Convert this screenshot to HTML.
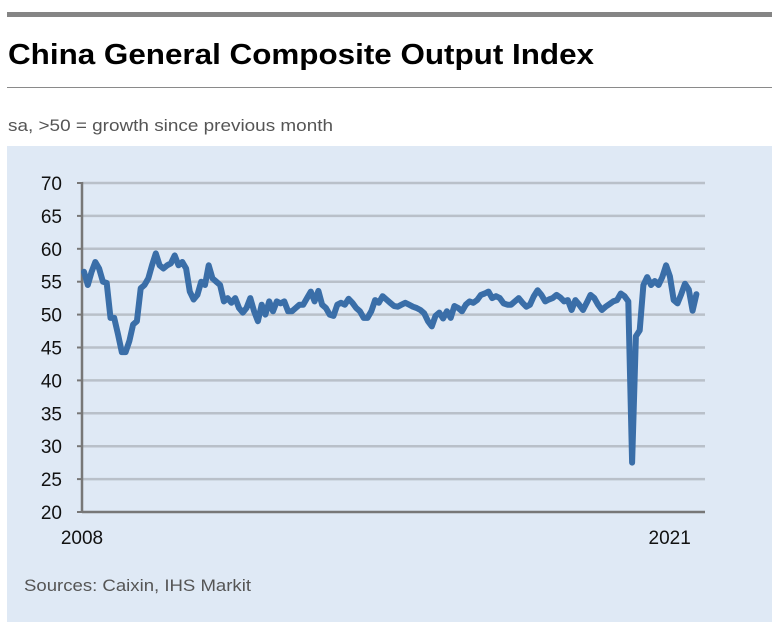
<!DOCTYPE html>
<html><head><meta charset="utf-8"><style>
html,body{margin:0;padding:0;background:#fff;}
svg{display:block;font-family:"Liberation Sans",sans-serif;}
</style></head><body>
<svg width="777" height="630" viewBox="0 0 777 630">
<rect x="7" y="12" width="765" height="5" fill="#858585"/>
<text x="8" y="64" font-size="29" font-weight="bold" fill="#000" textLength="586" lengthAdjust="spacingAndGlyphs">China General Composite Output Index</text>
<rect x="7" y="87" width="765" height="1" fill="#8a8a8a"/>
<text x="8" y="131" font-size="17" fill="#555" textLength="325" lengthAdjust="spacingAndGlyphs">sa, &gt;50 = growth since previous month</text>
<rect x="7" y="146" width="765" height="476" fill="#dfe9f5"/>
<g id="grid"></g>
<g id="axis"></g>
<path id="line" fill="none" stroke="#3a6ea8" stroke-width="6" stroke-linejoin="round" stroke-linecap="round"/>
<text x="24" y="591" font-size="17" fill="#555" textLength="227" lengthAdjust="spacingAndGlyphs">Sources: Caixin, IHS Markit</text>
</svg>
<script>
const yTicks=[20,25,30,35,40,45,50,55,60,65,70];
const xLabels=["2008","2021"];
const xLabelMonths=[0,156];
const startYear=2008;
const values=[56.5,54.5,56.5,58,57,55,54.8,49.5,49.5,47,44.3,44.3,
46,48.5,49,54,54.5,55.5,57.5,59.3,57.5,57,57.5,57.8,
59,57.5,58,57,53.5,52.3,53,55,54.5,57.5,55.5,55,
54.5,52,52.5,51.8,52.5,51,50.3,51,52.5,50.5,49,51.5,
50,52,50.5,52,51.7,52,50.5,50.5,51,51.5,51.5,52.5,
53.5,52,53.6,51.5,51,50,49.8,51.5,51.8,51.5,52.4,51.8,
51,50.5,49.5,49.5,50.5,52.2,51.8,52.8,52.3,51.8,51.3,51.2,
51.5,51.8,51.5,51.2,51,50.7,50.2,49,48.2,49.8,50.3,49.4,
50.5,49.5,51.3,51,50.5,51.5,52,51.8,52.2,53,53.2,53.5,
52.5,52.8,52.5,51.7,51.5,51.5,52,52.5,51.8,51.2,51.5,52.8,
53.7,53,52,52.3,52.5,53,52.6,52,52.2,50.7,52.2,51.5,
50.7,51.8,53,52.5,51.5,50.7,51.2,51.6,52,52.2,53.2,52.8,
52,27.5,46.7,47.6,54.5,55.7,54.5,55.1,54.5,55.7,57.5,55.8,
52.2,51.7,53.1,54.7,53.8,50.6,53.1];
const X0=84,PXM=3.78,Y0=183,Y1=512,VMIN=20,VMAX=70;
const sx=m=>X0+m*PXM;
const sy=v=>Y0+(VMAX-v)*(Y1-Y0)/(VMAX-VMIN);
const NS="http://www.w3.org/2000/svg";
const grid=document.getElementById('grid'),axis=document.getElementById('axis');
function mk(t,a,p){const e=document.createElementNS(NS,t);for(const k in a)e.setAttribute(k,a[k]);p.appendChild(e);return e;}
yTicks.forEach(v=>{
  const y=sy(v);
  if(v>VMIN){const g=mk('line',{x1:82,x2:705,y1:y,y2:y,stroke:'#b9c0c9','stroke-width':2.5},grid);
  
  }
  const tk=mk('line',{x1:77,x2:82,y1:y,y2:y,stroke:'#777','stroke-width':2},axis);
  
  
  const t=mk('text',{x:62,y:y+7,'font-size':19,'text-anchor':'end',fill:'#111'},axis);
  t.textContent=v;
  
  
});
const ax=mk('line',{x1:82,x2:82,y1:sy(VMAX)-1,y2:sy(VMIN)+1,stroke:'#777','stroke-width':2.5},axis);


const bx=mk('line',{x1:82,x2:705,y1:sy(VMIN),y2:sy(VMIN),stroke:'#777','stroke-width':2.5},axis);


xLabels.forEach((l,i)=>{
  const x=i===0?82:sx(xLabelMonths[i])-4;
  const t=mk('text',{x:x,y:544,'font-size':19,'text-anchor':'middle',fill:'#111'},axis);
  t.textContent=l;
  
  
});
document.getElementById('line').setAttribute('d',values.map((v,i)=>(i?'L':'M')+sx(i).toFixed(1)+' '+sy(v).toFixed(1)).join(''));
</script>
</body></html>
